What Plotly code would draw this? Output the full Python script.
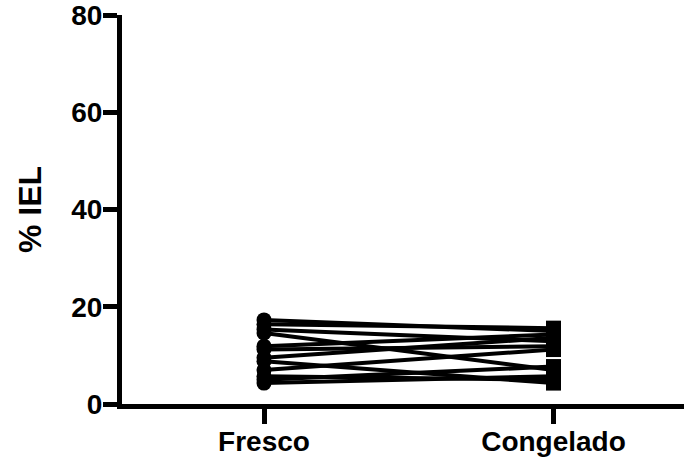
import plotly.graph_objects as go

categories = ["Fresco", "Congelado"]
fresco = [17.3, 16.4, 15.3, 14.6, 11.9, 11.2, 9.5, 8.8, 7.0, 5.7, 5.0, 4.3]
congelado = [15.0, 15.6, 12.9, 7.0, 14.3, 11.9, 13.6, 4.3, 11.2, 5.0, 7.7, 5.7]
y_ticks = [0, 20, 40, 60, 80]

fig = go.Figure()
for f, c in zip(fresco, congelado):
    fig.add_trace(go.Scatter(
        x=[0, 1], y=[f, c], mode="lines+markers",
        line=dict(color="black", width=4),
        marker=dict(symbol=["circle", "square"], size=15, color="black"),
        showlegend=False, hoverinfo="skip", cliponaxis=False,
    ))

font = dict(family="Liberation Sans, Arial, sans-serif", color="black")
fig.update_layout(
    width=687, height=459,
    margin=dict(l=122, r=3, t=15, b=55),
    paper_bgcolor="white", plot_bgcolor="white",
    font=font,
)
fig.update_xaxes(
    range=[-0.4905, 1.4508], tickmode="array", tickvals=[0, 1],
    ticktext=["<b>%s</b>" % c for c in categories],
    showline=True, linewidth=5, linecolor="black",
    ticks="outside", ticklen=15, tickwidth=5, tickcolor="black",
    showgrid=False, zeroline=False, tickfont=dict(size=28),
    automargin=False, ticklabeloverflow="allow", ticklabelstandoff=-7,
)
fig.update_yaxes(
    range=[0, 80], tickmode="array", tickvals=y_ticks,
    ticktext=["<b>%d</b>" % t for t in y_ticks],
    showline=True, linewidth=5, linecolor="black",
    ticks="outside", ticklen=14, tickwidth=5, tickcolor="black",
    showgrid=False, zeroline=False, tickfont=dict(size=28),
    ticklabelstandoff=-5, automargin=False, ticklabeloverflow="allow",
    title=dict(text="<b>% IEL</b>", font=dict(size=32), standoff=22),
)
fig.write_html("out.html")
